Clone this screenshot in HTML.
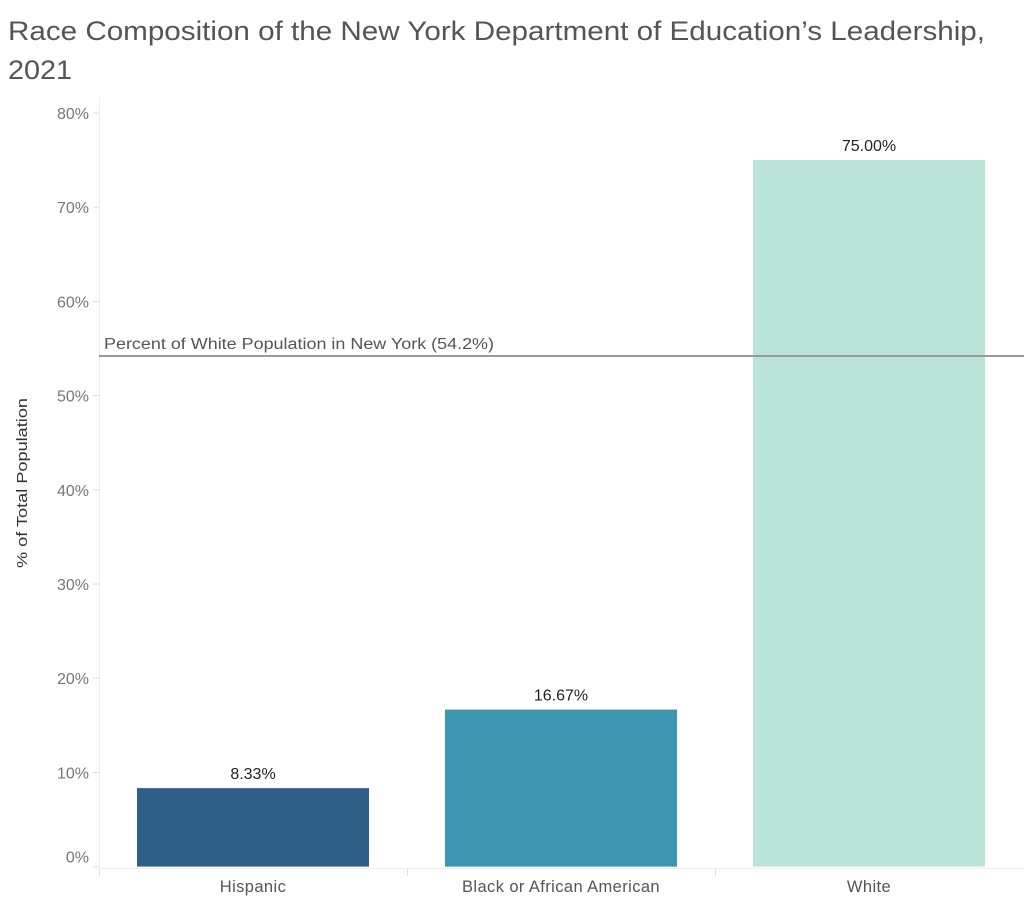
<!DOCTYPE html>
<html><head><meta charset="utf-8"><style>
body{margin:0;background:#fff;width:1024px;height:898px;overflow:hidden;font-family:"Liberation Sans",sans-serif}
</style></head><body>
<svg width="1024" height="898">
<text x="8" y="40" font-size="27" fill="#555" textLength="977" lengthAdjust="spacingAndGlyphs">Race Composition of the New York Department of Education’s Leadership,</text>
<text x="8" y="79" font-size="27" fill="#555" textLength="64" lengthAdjust="spacingAndGlyphs">2021</text>
<line x1="99.5" y1="98" x2="99.5" y2="868" stroke="#eee"/>
<line x1="93" y1="868.5" x2="1024" y2="868.5" stroke="#eee"/>
<text transform="translate(27,483) rotate(-90)" text-anchor="middle" font-size="15" fill="#333" textLength="170" lengthAdjust="spacingAndGlyphs">% of Total Population</text>
</svg>
<script>
const categories=["Hispanic","Black or African American","White"];
const values=[8.33,16.67,75.00];
const colors=["#2d5f88","#3c96b2","#bae4d8"];
const tickValues=[0,10,20,30,40,50,60,70,80];
const refValue=54.2;
const NS="http://www.w3.org/2000/svg";
const svg=document.querySelector("svg");
const y=v=>866.6-v*9.42;
const bandX=i=>99+i*308;
function mk(tag,attrs,parent){const e=document.createElementNS(NS,tag);for(const k in attrs)e.setAttribute(k,attrs[k]);(parent||svg).appendChild(e);return e;}
tickValues.forEach(t=>{
  const ty=y(t);
  const l=mk("line",{x1:93,x2:99,y1:ty,y2:ty,stroke:"#ddd"});
  
  
  const tx=mk("text",{x:89,y:(t===0?ty-4:ty+6),"text-anchor":"end","font-size":"16",fill:"#777"});
  tx.textContent=t+"%";
  
  
});
categories.forEach((c,i)=>{
  const x0=bandX(i);
  const tk=mk("line",{x1:x0+0.5,x2:x0+0.5,y1:869,y2:876,stroke:"#ddd"});
  
  
  const b=mk("rect",{x:x0+38,y:y(values[i]),width:232,height:y(0)-y(values[i]),fill:colors[i]});
  
  
  const v=mk("text",{x:x0+154,y:y(values[i])-9,"text-anchor":"middle","font-size":"16",fill:"#222"});
  v.textContent=values[i].toFixed(2)+"%";
  
  
  const xl=mk("text",{x:x0+154,y:892,"text-anchor":"middle","font-size":"16.5",fill:"#555","letter-spacing":"0.4"});
  xl.textContent=c;
  
  
});
const rl=mk("line",{x1:99,x2:1024,y1:y(refValue),y2:y(refValue),stroke:"#999","stroke-width":2});


const rt=mk("text",{x:104,y:y(refValue)-7,"font-size":"15.5",fill:"#555",textLength:"390",lengthAdjust:"spacingAndGlyphs"});
rt.textContent="Percent of White Population in New York ("+refValue+"%)";


</script>
</body></html>
